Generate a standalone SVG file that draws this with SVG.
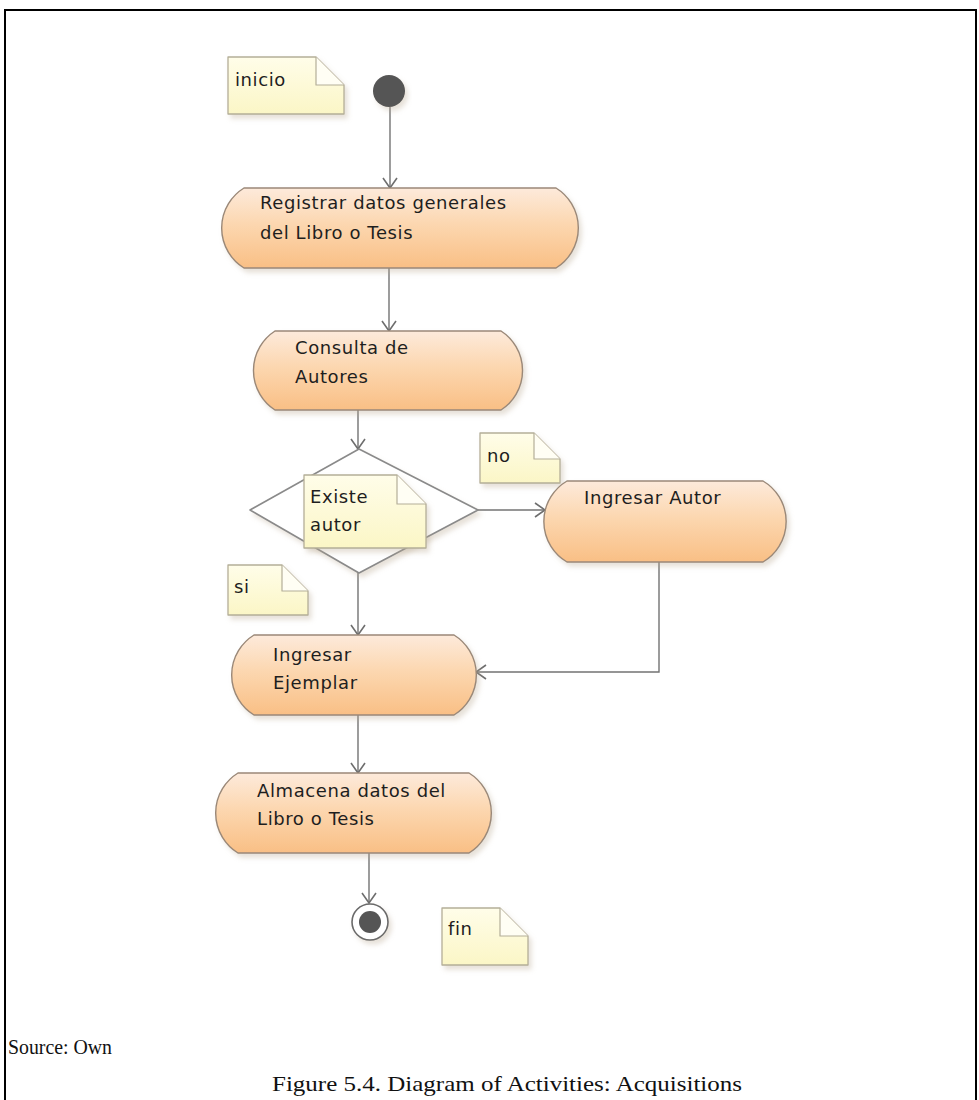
<svg xmlns="http://www.w3.org/2000/svg" width="979" height="1100" viewBox="0 0 979 1100">
<defs>
<linearGradient id="actGrad" x1="0" y1="0" x2="0" y2="1">
<stop offset="0" stop-color="#fdeadb"/>
<stop offset="0.45" stop-color="#fcd7b0"/>
<stop offset="1" stop-color="#f9bf85"/>
</linearGradient>
<linearGradient id="noteGrad" x1="0" y1="0" x2="0" y2="1">
<stop offset="0" stop-color="#fffde9"/>
<stop offset="1" stop-color="#fbf6c6"/>
</linearGradient>
<filter id="shadow" x="-10%" y="-10%" width="130%" height="140%">
<feDropShadow dx="3" dy="4" stdDeviation="2.5" flood-color="#b8a890" flood-opacity="0.35"/>
</filter>
<marker id="arrow" markerUnits="userSpaceOnUse" viewBox="0 0 12 16" refX="11" refY="8" markerWidth="12" markerHeight="16" orient="auto">
<path d="M1,1 L11,8 L1,15" fill="none" stroke="#6e6e6e" stroke-width="1.6"/>
</marker>
</defs>
<style>
.act{fill:url(#actGrad);stroke:#9a8878;stroke-width:1.4;filter:url(#shadow)}
.note{fill:url(#noteGrad);stroke:#b4ae98;stroke-width:1.3;stroke-linejoin:round;filter:url(#shadow)}
.fold{fill:#fffef4;stroke:#b4ae98;stroke-width:1.2;stroke-linejoin:round}
.t{font-family:"DejaVu Sans","Liberation Sans",sans-serif;font-size:18px;letter-spacing:0.6px;fill:#1e1e1e}
.conn{fill:none;stroke:#737373;stroke-width:1.4}
.cap{font-family:"Liberation Serif",serif;fill:#111}
</style>
<rect x="0" y="0" width="979" height="1100" fill="#ffffff"/>
<rect x="5" y="10" width="971" height="1110" fill="none" stroke="#000" stroke-width="2"/>

<g id="connectors">
<line class="conn" x1="390" y1="107" x2="390" y2="188" marker-end="url(#arrow)"/>
<line class="conn" x1="389" y1="268" x2="389" y2="331" marker-end="url(#arrow)"/>
<line class="conn" x1="358" y1="410" x2="358" y2="449" marker-end="url(#arrow)"/>
<line class="conn" x1="478" y1="510" x2="545" y2="510" marker-end="url(#arrow)"/>
<line class="conn" x1="358" y1="573" x2="358" y2="635" marker-end="url(#arrow)"/>
<polyline class="conn" points="659,562 659,672 476,672" marker-end="url(#arrow)"/>
<line class="conn" x1="358" y1="715" x2="358" y2="773" marker-end="url(#arrow)"/>
<line class="conn" x1="369" y1="853" x2="369" y2="903" marker-end="url(#arrow)"/>
</g>

<g id="start">
<circle cx="389" cy="91" r="16" fill="#555555" filter="url(#shadow)"/>
</g>

<g id="note-inicio">
<path class="note" d="M228,57 H316 L344,85 V114 H228 Z"/>
<path class="fold" d="M316,57 V85 H344"/>
<text class="t" x="235" y="86">inicio</text>
</g>

<g id="registrar">
<path class="act" d="M244,188 H556 A47,47 0 0 1 556,268 H244 A47,47 0 0 1 244,188 Z"/>
<text class="t" x="260" y="209">Registrar datos generales</text>
<text class="t" x="260" y="239">del Libro o Tesis</text>
</g>

<g id="consulta">
<path class="act" d="M275,331 H501 A47,47 0 0 1 501,410 H275 A47,47 0 0 1 275,331 Z"/>
<text class="t" x="295" y="354">Consulta de</text>
<text class="t" x="295" y="383">Autores</text>
</g>

<g id="decision">
<path d="M359,449 L478,510 L359,573 L250,510 Z" fill="#ffffff" stroke="#8a8a8a" stroke-width="1.6" stroke-linejoin="round" filter="url(#shadow)"/>
</g>

<g id="note-existe">
<path class="note" d="M304,475 H397 L426,504 V548 H304 Z"/>
<path class="fold" d="M397,475 V504 H426"/>
<text class="t" x="310" y="503">Existe</text>
<text class="t" x="310" y="531">autor</text>
</g>

<g id="note-no">
<path class="note" d="M480,433 H534 L560,459 V483 H480 Z"/>
<path class="fold" d="M534,433 V459 H560"/>
<text class="t" x="487" y="462">no</text>
</g>

<g id="ingresar-autor">
<path class="act" d="M567,481 H763 A47,47 0 0 1 763,562 H567 A47,47 0 0 1 567,481 Z"/>
<text class="t" x="584" y="504">Ingresar Autor</text>
</g>

<g id="note-si">
<path class="note" d="M228,565 H282 L308,591 V615 H228 Z"/>
<path class="fold" d="M282,565 V591 H308"/>
<text class="t" x="234" y="593">si</text>
</g>

<g id="ingresar-ejemplar">
<path class="act" d="M254,635 H454 A47,47 0 0 1 454,715 H254 A47,47 0 0 1 254,635 Z"/>
<text class="t" x="273" y="661">Ingresar</text>
<text class="t" x="273" y="689">Ejemplar</text>
</g>

<g id="almacena">
<path class="act" d="M238,773 H469 A47,47 0 0 1 469,853 H238 A47,47 0 0 1 238,773 Z"/>
<text class="t" x="257" y="797">Almacena datos del</text>
<text class="t" x="257" y="825">Libro o Tesis</text>
</g>

<g id="end">
<circle cx="370" cy="922" r="18" fill="#ffffff" stroke="#6a6a6a" stroke-width="1.6" filter="url(#shadow)"/>
<circle cx="370" cy="922" r="11" fill="#555555"/>
</g>

<g id="note-fin">
<path class="note" d="M442,908 H500 L528,936 V965 H442 Z"/>
<path class="fold" d="M500,908 V936 H528"/>
<text class="t" x="448" y="935">fin</text>
</g>

<text class="cap" x="8" y="1054" font-size="21" textLength="104" lengthAdjust="spacingAndGlyphs">Source: Own</text>
<text class="cap" x="272" y="1091" font-size="22" textLength="470" lengthAdjust="spacingAndGlyphs">Figure 5.4. Diagram of Activities: Acquisitions</text>
</svg>
